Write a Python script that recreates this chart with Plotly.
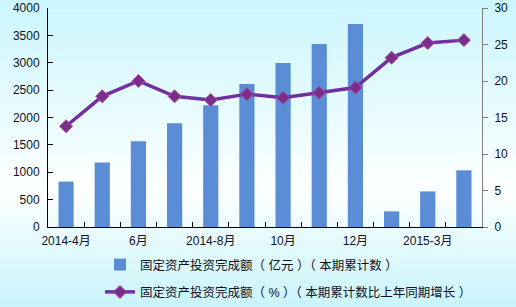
import plotly.graph_objects as go

months = ["2014-4月", "2014-5月", "2014-6月", "2014-7月", "2014-8月", "2014-9月",
          "2014-10月", "2014-11月", "2014-12月", "2015-2月", "2015-3月", "2015-4月"]
tick_labels = ["2014-4月", "", "6月", "", "2014-8月", "", "10月", "", "12月", "", "2015-3月", ""]
invest = [830, 1180, 1565, 1895, 2225, 2610, 2995, 3342, 3707, 285, 650, 1035]
growth = [13.8, 17.9, 20.0, 17.9, 17.4, 18.2, 17.7, 18.4, 19.1, 23.2, 25.2, 25.6]

W, H = 516, 307
ml, mr, mt, mb = 48, 34, 8, 80
pw, ph = W - ml - mr, H - mt - mb

font = dict(family="Liberation Sans, Noto Sans CJK SC, Arial", size=12, color="#111122")

fig = go.Figure()
fig.add_trace(go.Bar(
    x=months, y=invest, name="固定资产投资完成额（ 亿元 ）（ 本期累计数 ）",
    marker=dict(color="#5a8dd6", line=dict(width=0)), legendgroup="a"))
fig.add_trace(go.Scatter(
    x=months, y=growth, yaxis="y2", mode="lines+markers",
    name="固定资产投资完成额（ % ）（ 本期累计数比上年同期增长 ）",
    line=dict(color="#7030a0", width=3.5),
    marker=dict(symbol="diamond", size=10, color="#7a2d8a", line=dict(color="#b04a98", width=1)),
    legendgroup="b"))

# background gradient (cyan -> white -> cyan)
shapes = []
n = 60
top = (202, 246, 253)
mid = (253, 255, 255)
bot = (200, 244, 250)
mid_pos = 190 / H
for i in range(n):
    f0 = i / n
    f1 = (i + 1) / n
    fc = (f0 + f1) / 2
    if fc < mid_pos:
        t = fc / mid_pos
        c = tuple(round(top[k] + (mid[k] - top[k]) * t) for k in range(3))
    else:
        t = (fc - mid_pos) / (1 - mid_pos)
        c = tuple(round(mid[k] + (bot[k] - mid[k]) * t) for k in range(3))
    y0px, y1px = f0 * H, f1 * H + 0.6
    shapes.append(dict(
        type="rect", xref="paper", yref="paper", layer="below",
        x0=-ml / pw, x1=(W - ml) / pw,
        y0=1 + mt / ph - y1px / ph, y1=1 + mt / ph - y0px / ph,
        line=dict(width=0), fillcolor="rgb(%d,%d,%d)" % c))

fig.update_layout(
    width=W, height=H,
    margin=dict(l=ml, r=mr, t=mt, b=mb, pad=0, autoexpand=False),
    paper_bgcolor="rgba(0,0,0,0)", plot_bgcolor="rgba(0,0,0,0)",
    font=font,
    bargap=0.58,
    shapes=shapes,
    showlegend=True,
    legend=dict(orientation="v", x=(100 - ml) / pw, xanchor="left",
                y=-(250 - mt - ph) / ph, yanchor="top",
                bgcolor="rgba(0,0,0,0)", font=dict(size=12.5),
                tracegroupgap=8, itemwidth=30),
    xaxis=dict(type="category", categoryorder="array", categoryarray=months,
               range=[-0.5, len(months) - 0.5],
               tickmode="array", tickvals=months, ticktext=tick_labels,
               tickson="boundaries", ticks="inside", ticklen=5, tickcolor="#000",
               showline=True, linecolor="#000", linewidth=1, showgrid=False,
               tickangle=0, tickfont=font, automargin=False, ticklabelstandoff=3),
    yaxis=dict(range=[0, 4000], dtick=500, ticks="inside", ticklen=5, tickcolor="#000",
               showline=True, linecolor="#000", linewidth=1, showgrid=False,
               zeroline=False, tickfont=font, automargin=False, ticklabelstandoff=5),
    yaxis2=dict(range=[0, 30], dtick=5, overlaying="y", side="right",
                ticks="outside", ticklen=5, tickcolor="#808080",
                showline=True, linecolor="#808080", linewidth=1, showgrid=False,
                zeroline=False, tickfont=font, automargin=False, ticklabelstandoff=4),
)

fig.write_html("out.html")
